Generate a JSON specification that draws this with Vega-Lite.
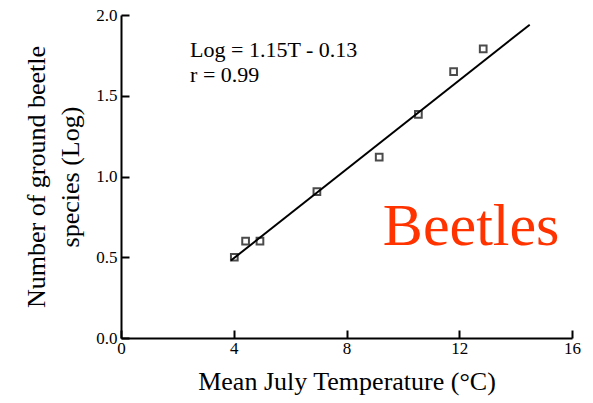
{
  "$schema": "https://vega.github.io/schema/vega-lite/v6.json",
  "width": 451,
  "height": 323,
  "autosize": {"type": "none"},
  "padding": {"left": 121, "top": 15, "right": 21, "bottom": 65},
  "background": "white",
  "config": {
    "view": {"stroke": null},
    "font": "Liberation Serif",
    "axis": {
      "domainColor": "black",
      "domainWidth": 2,
      "tickColor": "black",
      "tickWidth": 2,
      "tickSize": -8,
      "grid": false,
      "labelFont": "Liberation Serif",
      "labelFontSize": 17,
      "labelColor": "black",
      "titleFont": "Liberation Serif",
      "titleFontSize": 26,
      "titleFontWeight": "normal",
      "titleColor": "black"
    }
  },
  "datasets": {
    "points": [
      {"temp": 4.02, "logn": 0.50},
      {"temp": 4.42, "logn": 0.60},
      {"temp": 4.93, "logn": 0.60},
      {"temp": 6.95, "logn": 0.906},
      {"temp": 9.16, "logn": 1.12},
      {"temp": 10.55, "logn": 1.385},
      {"temp": 11.8, "logn": 1.65},
      {"temp": 12.85, "logn": 1.79}
    ],
    "fit": [
      {"temp": 3.9, "logn": 0.48},
      {"temp": 14.5, "logn": 1.94}
    ],
    "notes": [
      {"label": "equation"}
    ]
  },
  "layer": [
    {
      "data": {"name": "fit"},
      "mark": {"type": "line", "color": "black", "strokeWidth": 2},
      "encoding": {
        "x": {
          "field": "temp", "type": "quantitative",
          "scale": {"domain": [0, 16], "nice": false},
          "axis": {"values": [0, 4, 8, 12, 16], "title": "Mean July Temperature (°C)", "labelPadding": 10, "titlePadding": 12, "labelFlush": false}
        },
        "y": {
          "field": "logn", "type": "quantitative",
          "scale": {"domain": [0, 2], "nice": false},
          "axis": {"values": [0, 0.5, 1, 1.5, 2], "format": ".1f", "title": ["Number of ground beetle", "species (Log)"], "titleLineHeight": 34, "labelPadding": 12, "titlePadding": 12, "labelFlush": false}
        }
      }
    },
    {
      "data": {"name": "points"},
      "mark": {"type": "point", "shape": "square", "filled": false, "color": "black", "strokeWidth": 2, "size": 45},
      "encoding": {
        "x": {"field": "temp", "type": "quantitative"},
        "y": {"field": "logn", "type": "quantitative"}
      }
    },
    {
      "data": {"name": "notes"},
      "mark": {"type": "text", "align": "left", "baseline": "alphabetic", "fontSize": 22, "lineHeight": 25, "color": "black", "font": "Liberation Serif"},
      "encoding": {
        "x": {"datum": 2.45},
        "y": {"datum": 1.74},
        "text": {"value": ["Log = 1.15T - 0.13", "r = 0.99"]}
      }
    },
    {
      "data": {"name": "notes"},
      "mark": {"type": "text", "align": "left", "baseline": "alphabetic", "fontSize": 60, "color": "#FF3300", "font": "Liberation Serif"},
      "encoding": {
        "x": {"datum": 9.29},
        "y": {"datum": 0.576},
        "text": {"value": "Beetles"}
      }
    }
  ]
}
